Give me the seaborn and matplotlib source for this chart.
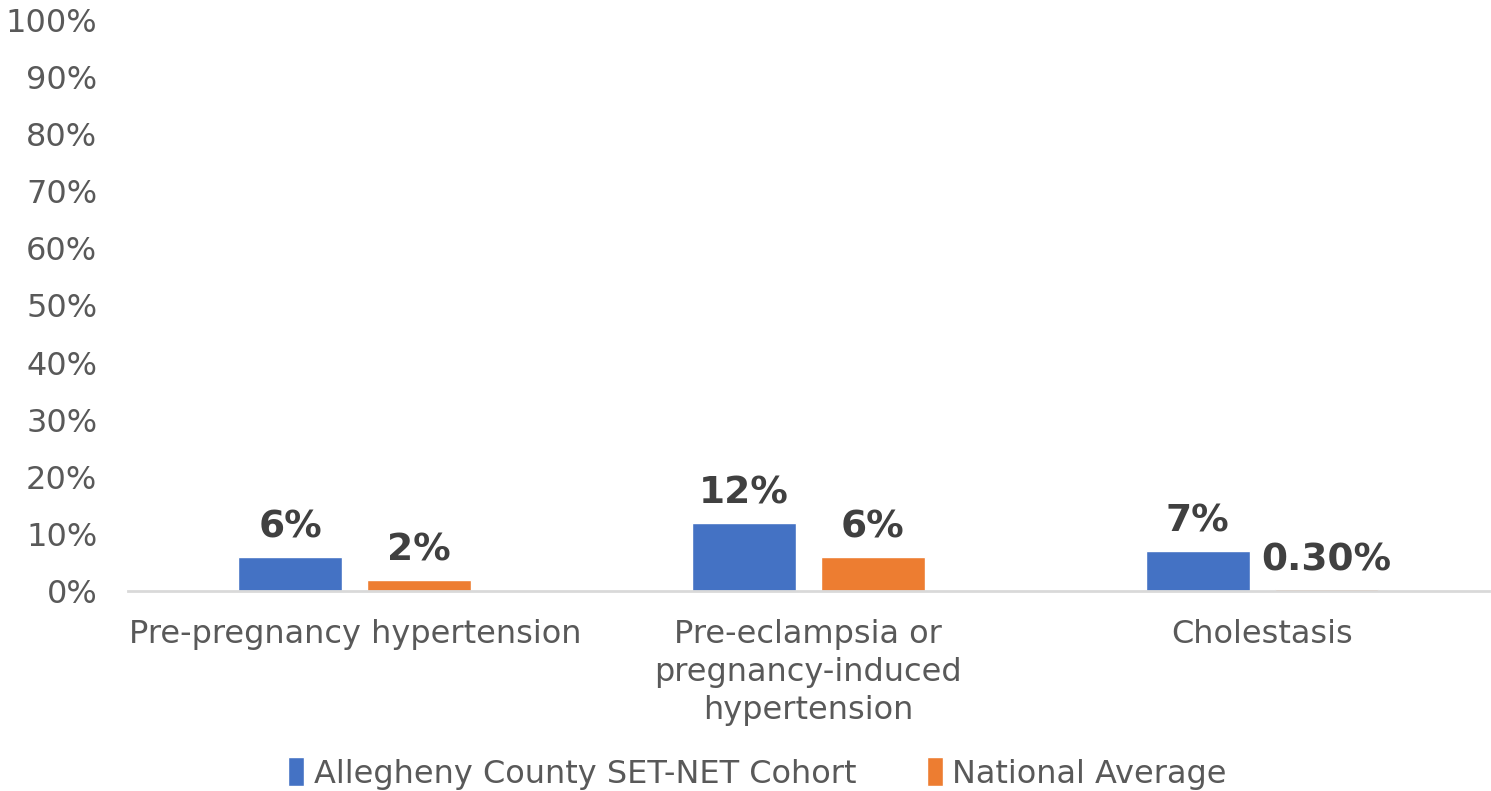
import pandas as pd
import matplotlib
matplotlib.use("Agg")
import matplotlib.pyplot as plt
import seaborn as sns

categories = ["Pre-pregnancy hypertension",
              "Pre-eclampsia or\npregnancy-induced\nhypertension",
              "Cholestasis"]
series = ["Allegheny County SET-NET Cohort", "National Average"]
cohort = [0.06, 0.12, 0.07]
national = [0.02, 0.06, 0.003]
cohort_labels = ["6%", "12%", "7%"]
national_labels = ["2%", "6%", "0.30%"]
colors = ["#4472C4", "#ED7D31"]

df = pd.DataFrame({
    "category": categories * 2,
    "group": [series[0]] * 3 + [series[1]] * 3,
    "value": cohort + national,
})

sns.set_theme(style="white")
plt.rcParams["font.family"] = ["DejaVu Sans"]

fig = plt.figure(figsize=(14.91, 7.91), dpi=100)
ax = fig.add_axes([0.0858, 0.2528, 0.9128, 0.722])

sns.barplot(data=df, x="category", y="value", hue="group", order=categories,
            hue_order=series, palette=colors, width=0.568, gap=0.195,
            saturation=1, ax=ax, legend=True)

for cont, labs in zip(ax.containers, [cohort_labels, national_labels]):
    ax.bar_label(cont, labels=labs, padding=8, fontsize=27, fontweight="bold",
                 color="#404040")

ax.set_ylim(0, 1)
ax.set_yticks([i / 10 for i in range(11)])
ax.set_yticklabels([f"{i * 10}%" for i in range(11)])
ax.set_xlabel("")
ax.set_ylabel("")
ax.tick_params(axis="both", length=0, labelsize=23, colors="#595959")
ax.tick_params(axis="x", pad=20)
ax.tick_params(axis="y", pad=22)
for t in ax.get_xticklabels():
    t.set_linespacing(1.3)
for s in ["top", "right", "left"]:
    ax.spines[s].set_visible(False)
ax.spines["bottom"].set_color("#D9D9D9")
ax.spines["bottom"].set_linewidth(2)

handles, labels = ax.get_legend_handles_labels()
ax.legend_.remove()
fig.legend(handles, labels, loc="center", bbox_to_anchor=(0.508, 0.022),
           ncol=2, frameon=False, handlelength=0.5, handleheight=1.0,
           handletextpad=0.3, columnspacing=2.2,
           prop={"family": "DejaVu Sans", "size": 23},
           labelcolor="#595959")

fig.savefig("out.png", dpi=100)
